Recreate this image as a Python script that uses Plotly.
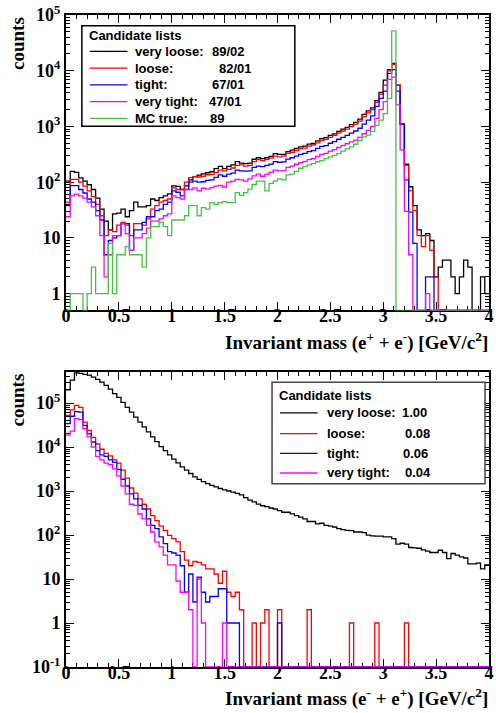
import numpy as np
import plotly.graph_objects as go

# ---------------- data ----------------
bin_edges = np.round(np.arange(0, 4.0001, 0.04), 4)  # 100 bins of 0.04 GeV/c^2

top_very_loose = [
    105, 156, 150, 120, 105, 90, 74, 52, 33, 20,
    14, 27, 28, 33, 24, 31, 44, 36, 36, 38,
    50, 47, 53, 57, 62, 86, 84, 74, 86, 110,
    126, 134, 141, 148, 154, 176, 192, 176, 192, 205,
    235, 220, 215, 220, 258, 275, 265, 275, 292, 325,
    315, 315, 355, 377, 403, 431, 445, 482, 495, 550,
    605, 630, 690, 738, 820, 900, 965, 1080, 1180, 1350,
    1650, 1900, 2150, 2900, 4100, 6800, 10500, 13500, 5500, 1100,
    210, 83, 38, 14, 11, 12, 9, 2, 3, 4,
    4, 2, 1, 2, 4, 3, 0, 0, 2, 1]

top_loose = [
    44, 112, 112, 100, 85, 70, 55, 40, 25, 11,
    14, 13, 17, 19, 17, 11, 18, 18, 17, 22,
    33, 38, 44, 47, 50, 79, 74, 74, 100, 121,
    126, 124, 128, 136, 138, 150, 165, 160, 170, 180,
    200, 205, 195, 200, 235, 255, 245, 255, 270, 295,
    285, 295, 330, 345, 370, 400, 410, 445, 465, 510,
    560, 585, 640, 690, 760, 830, 900, 1000, 1100, 1250,
    1500, 1750, 2000, 2700, 3800, 5500, 10000, 13000, 5500, 1100,
    200, 70, 31, 11, 7, 11, 6, 2, 0, 0,
    0, 0, 0, 0, 0, 0, 0, 0, 0, 0]

top_tight = [
    38, 87, 87, 74, 64, 50, 44, 31, 21, 5,
    9, 10, 11, 18, 18, 6, 14, 14, 19, 24,
    24, 31, 33, 40, 44, 70, 66, 57, 74, 100,
    105, 100, 102, 108, 110, 122, 135, 128, 140, 145,
    165, 160, 158, 160, 185, 195, 190, 200, 212, 235,
    228, 232, 260, 275, 295, 315, 330, 355, 370, 405,
    440, 455, 500, 535, 590, 640, 690, 760, 830, 930,
    1100, 1300, 1550, 2300, 3200, 4300, 9000, 10500, 4300, 1100,
    110, 29, 8, 0, 0, 2, 2, 0, 0, 0,
    0, 0, 0, 0, 0, 0, 0, 0, 0, 0]

top_very_tight = [
    24, 57, 61, 57, 52, 44, 36, 25, 11, 2,
    5, 11, 11, 18, 12, 6, 10, 10, 12, 15,
    20, 20, 22, 25, 27, 57, 53, 50, 74, 74,
    79, 70, 78, 75, 80, 85, 88, 82, 100, 105,
    112, 110, 105, 115, 130, 140, 128, 138, 150, 165,
    160, 162, 185, 195, 210, 225, 235, 255, 265, 290,
    315, 330, 360, 385, 420, 455, 490, 530, 570, 640,
    740, 850, 1000, 1400, 2000, 2800, 7000, 7700, 2450, 380,
    30, 5, 0, 0, 0, 1, 0, 0, 0, 0,
    0, 0, 0, 0, 0, 0, 0, 0, 0, 0]

top_mc_true = [
    0, 1, 1, 1, 0, 1, 3, 1, 1, 1,
    8, 1, 5, 5, 7, 5, 5, 5, 3, 10,
    16, 16, 19, 16, 11, 21, 21, 21, 25, 38,
    38, 25, 35, 33, 43, 40, 43, 45, 43, 43,
    65, 58, 65, 75, 91, 105, 105, 70, 95, 105,
    115, 110, 135, 140, 156, 178, 190, 204, 215, 233,
    245, 266, 285, 304, 325, 360, 396, 430, 480, 560,
    650, 700, 820, 1050, 1300, 1700, 3200, 52000, 0, 0,
    0, 0, 0, 0, 0, 0, 0, 0, 0, 0,
    0, 0, 0, 0, 0, 0, 0, 0, 0, 0]

bot_very_loose = [
    200000, 330000, 485000, 470000, 450000, 430000, 390000, 345000, 300000, 252000,
    206000, 164000, 134000, 104000, 80000, 62000, 48000, 37000, 28600, 22000,
    17000, 13200, 10200, 8300, 6650, 5330, 4340, 3530, 2970, 2500,
    2100, 1830, 1630, 1470, 1350, 1240, 1140, 1060, 1000, 940,
    880, 820, 710, 620, 569, 505, 463, 440, 411, 390,
    358, 329, 329, 302, 277, 254, 233, 203, 203, 180,
    185, 166, 160, 152, 139, 132, 128, 126, 117, 117,
    113, 99, 96, 94, 94, 91, 91, 83, 62, 65,
    62, 52, 51, 50, 46, 43, 40, 40, 45, 40,
    29, 38, 35, 32, 30, 22, 22, 23, 17, 21]

bot_loose = [
    52000, 70000, 88000, 80000, 37000, 24000, 16500, 11700, 8900, 7200,
    6300, 5100, 4300, 3000, 1960, 1170, 900, 660, 500, 390,
    276, 213, 160, 128, 98, 83, 70, 42, 27, 20,
    25, 24, 21, 17, 17, 13, 8, 15, 5, 4,
    5, 2, 0, 0, 1, 0, 1, 2, 0, 0,
    2, 0, 0, 0, 0, 0, 0, 2, 0, 0,
    0, 0, 0, 0, 0, 0, 0, 1, 0, 0,
    0, 0, 0, 1, 0, 0, 0, 0, 0, 0,
    1, 0, 0, 0, 0, 0, 0, 0, 0, 0,
    0, 0, 0, 0, 0, 0, 0, 0, 0, 0]

bot_tight = [
    34000, 50000, 64000, 62000, 31000, 20000, 13000, 8300, 6600, 6100,
    5100, 4500, 3100, 1850, 1300, 860, 660, 470, 390, 233,
    165, 139, 91, 64, 42, 39, 35, 20, 5, 13,
    3, 11, 5, 3, 4, 4, 6, 6, 1, 1,
    1, 0, 0, 0, 0, 0, 0, 0, 0, 0,
    1, 0, 0, 0, 0, 0, 0, 0, 0, 0,
    0, 0, 0, 0, 0, 0, 0, 0, 0, 0,
    0, 0, 0, 0, 0, 0, 0, 0, 0, 0,
    0, 0, 0, 0, 0, 0, 0, 0, 0, 0,
    0, 0, 0, 0, 0, 0, 0, 0, 0, 0]

bot_very_tight = [
    18600, 23000, 44000, 42000, 26000, 17000, 10000, 6100, 5100, 4300,
    4000, 3200, 2200, 1300, 860, 500, 470, 300, 233, 165,
    117, 70, 54, 35, 21, 21, 9, 5, 5, 2,
    0, 10, 1, 0, 0, 0, 0, 1, 0, 0,
    0, 0, 0, 0, 0, 0, 0, 0, 0, 0,
    0, 0, 0, 0, 0, 0, 0, 0, 0, 0,
    0, 0, 0, 0, 0, 0, 0, 0, 0, 0,
    0, 0, 0, 0, 0, 0, 0, 0, 0, 0,
    0, 0, 0, 0, 0, 0, 0, 0, 0, 0,
    0, 0, 0, 0, 0, 0, 0, 0, 0, 0]

top_legend_labels = ["very loose:", "loose:", "tight:", "very tight:", "MC true:"]
top_legend_values = ["89/02", "82/01", "67/01", "47/01", "89"]
bot_legend_labels = ["very loose:", "loose:", "tight:", "very tight:"]
bot_legend_values = ["1.00", "0.08", "0.06", "0.04"]

x_tick_vals = [0, 0.5, 1, 1.5, 2, 2.5, 3, 3.5, 4]
x_tick_text = ["0", "0.5", "1", "1.5", "2", "2.5", "3", "3.5", "4"]

# ---------------- styling ----------------
BLACK, RED, BLUE, MAGENTA, GREEN = "#000000", "#ff0000", "#0000ff", "#ff00ff", "#44c244"
W, H = 496, 713
ML, MR, MT, MB = 66, 3, 5, 46
PW, PH = W - ML - MR, H - MT - MB

def px(x):
    return (x - ML) / PW

def py(y):
    return (H - MB - y) / PH

TOP_YMIN, TOP_YMAX = np.log10(0.5), 5.0
BOT_YMIN, BOT_YMAX = -1.0, 5.716
EPS = 1e-4

fig = go.Figure()

def add_hist(vals, color, xa, ya, floor, width=1.3):
    y = [v if v > 0 else floor for v in vals]
    y = y + [y[-1]]
    fig.add_trace(go.Scatter(
        x=bin_edges, y=y, mode="lines",
        line=dict(color=color, width=width, shape="hv"),
        xaxis=xa, yaxis=ya, hoverinfo="skip", showlegend=False))

top_floor = 10 ** TOP_YMIN
bot_floor = 10 ** BOT_YMIN
add_hist(top_very_loose, BLACK, "x", "y", top_floor)
add_hist(top_loose, RED, "x", "y", top_floor)
add_hist(top_tight, BLUE, "x", "y", top_floor)
add_hist(top_very_tight, MAGENTA, "x", "y", top_floor)
add_hist(top_mc_true, GREEN, "x", "y", top_floor)

add_hist(bot_very_loose, BLACK, "x2", "y2", bot_floor)
add_hist(bot_loose, RED, "x2", "y2", bot_floor)
add_hist(bot_tight, BLUE, "x2", "y2", bot_floor)
add_hist(bot_very_tight, MAGENTA, "x2", "y2", bot_floor)

tick_font = dict(family="Liberation Serif", size=18, color="black", weight="bold")

def log_ticks(lo_exp, hi_exp):
    vals, text, minor = [], [], []
    for e in range(lo_exp, hi_exp + 1):
        vals.append(10.0 ** e)
        if e == 0:
            text.append("1")
        elif e == 1:
            text.append("10")
        else:
            text.append("10<sup>%d</sup>" % e)
        for m in range(2, 10):
            minor.append(m * 10.0 ** e)
    return vals, text, minor

common_x = dict(
    range=[-EPS, 4 + EPS], tickmode="array", tickvals=x_tick_vals, ticktext=x_tick_text,
    ticks="inside", ticklen=8, tickwidth=1.2, tickcolor="black",
    showline=True, linecolor="black", linewidth=2, mirror="allticks",
    showgrid=False, zeroline=False, tickfont=tick_font, layer="below traces",
    ticklabeloverflow="allow", ticklabelstandoff=-12,
    minor=dict(tickmode="linear", tick0=0, dtick=0.1, ticks="inside", ticklen=4,
               tickwidth=1, tickcolor="black", showgrid=False))

tv, tt, tm = log_ticks(0, 5)
tm = [0.5, 0.6, 0.7, 0.8, 0.9] + [m for m in tm if m < 1e5]
bv, bt, bm = log_ticks(-1, 5)
bm = [m for m in bm if m < 10 ** BOT_YMAX]

def y_axis(domain, anchor, rng, vals, text, minor):
    return dict(
        domain=domain, anchor=anchor, type="log", range=rng,
        tickmode="array", tickvals=vals, ticktext=text,
        ticks="inside", ticklen=8, tickwidth=1.2, tickcolor="black",
        showline=True, linecolor="black", linewidth=2, mirror="allticks",
        showgrid=False, zeroline=False, tickfont=tick_font, layer="below traces",
        ticklabeloverflow="allow",
        minor=dict(tickmode="array", tickvals=minor, ticks="inside", ticklen=4,
                   tickwidth=1, tickcolor="black", showgrid=False))

fig.update_layout(
    width=W, height=H, margin=dict(l=ML, r=MR, t=MT, b=MB),
    paper_bgcolor="white", plot_bgcolor="white", showlegend=False,
    xaxis=dict(domain=[0, 1], anchor="y", **common_x),
    yaxis=y_axis([py(305), 1], "x", [TOP_YMIN, TOP_YMAX + EPS], tv, tt, tm),
    xaxis2=dict(domain=[0, 1], anchor="y2", **common_x),
    yaxis2=y_axis([0, py(367)], "x2", [BOT_YMIN - EPS, BOT_YMAX], bv, bt, bm),
)

serif_title = dict(family="Liberation Serif", size=19, color="black", weight="bold")
sans_bold = dict(family="Liberation Sans", size=13, color="black", weight="bold")

annotations = []
shapes = []

# axis titles
annotations.append(dict(text="counts", xref="paper", yref="paper", x=px(17), y=py(5),
                        xanchor="center", yanchor="top", textangle=-90, showarrow=False,
                        font=serif_title))
annotations.append(dict(text="counts", xref="paper", yref="paper", x=px(17), y=py(367),
                        xanchor="center", yanchor="top", textangle=-90, showarrow=False,
                        font=serif_title))
annotations.append(dict(text="Invariant mass (e<sup>+</sup> + e<sup>-</sup>) [GeV/c<sup>2</sup>]",
                        xref="paper", yref="paper", x=px(494), y=py(336),
                        xanchor="right", yanchor="middle", showarrow=False, font=serif_title))
annotations.append(dict(text="Invariant mass (e<sup>-</sup> + e<sup>+</sup>) [GeV/c<sup>2</sup>]",
                        xref="paper", yref="paper", x=px(494), y=py(698),
                        xanchor="right", yanchor="middle", showarrow=False, font=serif_title))

# top legend
shapes.append(dict(type="rect", xref="paper", yref="paper", x0=px(82), x1=px(297),
                   y0=py(118), y1=py(16), line=dict(color="black", width=1.5),
                   fillcolor="white", layer="above"))
annotations.append(dict(text="Candidate lists", xref="paper", yref="paper", x=px(87), y=py(26),
                        xanchor="left", yanchor="middle", showarrow=False, font=sans_bold))
top_colors = [BLACK, RED, BLUE, MAGENTA, GREEN]
top_rows = [42, 59, 76, 93, 110]
top_val_x = [211, 218, 211, 208, 209]
for lab, val, col, yy, vx in zip(top_legend_labels, top_legend_values, top_colors, top_rows, top_val_x):
    shapes.append(dict(type="line", xref="paper", yref="paper", x0=px(90), x1=px(128),
                       y0=py(yy), y1=py(yy), line=dict(color=col, width=1.3), layer="above"))
    annotations.append(dict(text=lab, xref="paper", yref="paper", x=px(134), y=py(yy),
                            xanchor="left", yanchor="middle", showarrow=False, font=sans_bold))
    annotations.append(dict(text=val, xref="paper", yref="paper", x=px(vx), y=py(yy),
                            xanchor="left", yanchor="middle", showarrow=False, font=sans_bold))

# bottom legend
shapes.append(dict(type="rect", xref="paper", yref="paper", x0=px(274), x1=px(489),
                   y0=py(481), y1=py(378), line=dict(color="#444444", width=1.5),
                   fillcolor="white", layer="above"))
annotations.append(dict(text="Candidate lists", xref="paper", yref="paper", x=px(279), y=py(391),
                        xanchor="left", yanchor="middle", showarrow=False, font=sans_bold))
bot_colors = [BLACK, RED, BLUE, MAGENTA]
bot_rows = [409, 430, 450, 470]
bot_val_x = [403, 406, 404, 406]
for lab, val, col, yy, vx in zip(bot_legend_labels, bot_legend_values, bot_colors, bot_rows, bot_val_x):
    shapes.append(dict(type="line", xref="paper", yref="paper", x0=px(282), x1=px(320),
                       y0=py(yy), y1=py(yy), line=dict(color=col, width=1.3), layer="above"))
    annotations.append(dict(text=lab, xref="paper", yref="paper", x=px(327), y=py(yy),
                            xanchor="left", yanchor="middle", showarrow=False, font=sans_bold))
    annotations.append(dict(text=val, xref="paper", yref="paper", x=px(vx), y=py(yy),
                            xanchor="left", yanchor="middle", showarrow=False, font=sans_bold))

fig.update_layout(annotations=annotations, shapes=shapes)
fig.write_html("out.html", config={"displayModeBar": False},
               post_script="document.body.style.margin='0';document.body.style.overflow='hidden';")
